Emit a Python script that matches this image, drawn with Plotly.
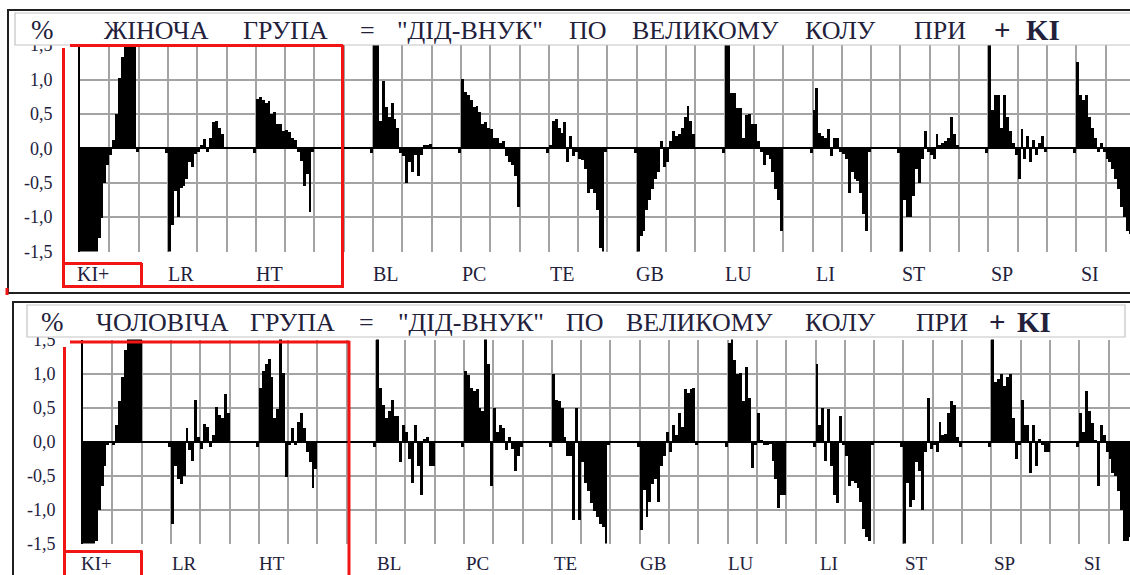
import plotly.graph_objects as go

W, H = 1130, 575

# ---------------- data ----------------
GROUPS = ["KI+", "LR", "HT", "BL", "PC", "TE", "GB", "LU", "LI", "ST", "SP", "SI"]
Y_TICKS = [-1.5, -1.0, -0.5, 0.0, 0.5, 1.0, 1.5]
Y_TICK_TEXT = ["-1,5", "-1,0", "-0,5", "0,0", "0,5", "1,0", "1,5"]
MARK = -0.07  # small separator bar before each group

# female group (top panel), 20 values per group
F_KI = [-1.6, -1.6, -1.6, -1.6, -1.6, -1.6, -1.3, -1.02, -0.5, -0.24, -0.1, 0.12, 0.5, 1.02, 1.33, 1.6, 1.6, 1.6, 1.6, -0.05]
F_LR = [-1.6, -1.12, -0.62, -1.0, -0.58, -0.55, -0.45, -0.2, -0.28, -0.08, -0.05, 0.05, 0.14, -0.05, 0.15, 0.38, 0.4, 0.3, 0.2, 0.02]
F_HT = [0.72, 0.74, 0.7, 0.65, 0.68, 0.5, 0.52, 0.35, 0.35, 0.25, 0.27, 0.24, 0.15, 0.12, -0.05, -0.18, -0.55, -0.38, -0.93, -0.05]
F_BL = [1.6, 1.6, 0.4, 0.97, 0.6, 0.45, 0.65, 0.43, 0.3, -0.07, -0.12, -0.5, -0.2, -0.35, -0.1, -0.4, -0.1, 0.05, 0.05, 0.06]
F_PC = [1.0, 0.82, 0.78, 0.7, 0.6, 0.62, 0.52, 0.35, 0.38, 0.3, 0.28, 0.15, 0.15, 0.08, 0.1, -0.12, -0.2, -0.25, -0.4, -0.85]
F_TE = [0.05, 0.4, 0.42, 0.3, 0.22, 0.38, -0.2, 0.18, -0.12, -0.05, -0.15, -0.17, -0.3, -0.65, -0.6, -0.65, -0.9, -1.45, -1.6, -0.05]
F_GB = [-1.6, -1.28, -1.2, -0.9, -0.75, -0.6, -0.45, -0.35, 0.1, -0.28, -0.2, 0.1, 0.25, 0.18, 0.2, 0.3, 0.45, 0.62, 0.4, 0.2]
F_LU = [1.6, 1.6, 0.8, 0.8, 0.58, 0.58, 0.15, 0.48, 0.5, 0.35, 0.35, 0.1, -0.05, -0.25, -0.1, -0.15, -0.35, -0.6, -0.75, -1.2]
F_LI = [0.55, 0.88, 0.22, 0.18, 0.15, 0.28, -0.12, 0.15, 0.15, -0.05, -0.08, -0.15, -0.65, -0.35, -0.45, -0.48, -0.65, -0.95, -1.2, -0.05]
F_ST = [-1.6, -0.75, -1.0, -1.0, -0.7, -0.3, -0.5, -0.15, 0.25, -0.05, -0.1, -0.15, 0.2, 0.05, 0.08, 0.1, 0.15, 0.45, 0.2, 0.05]
F_SP = [1.6, 0.55, 0.78, 0.78, 0.3, 0.78, 0.45, 0.25, 0.08, -0.1, -0.45, 0.28, -0.15, 0.18, -0.2, 0.12, -0.1, 0.08, 0.18, -0.05]
F_SI = [1.25, 0.78, 0.7, 0.78, 0.45, 0.3, 0.15, -0.05, 0.08, -0.05, -0.15, -0.2, -0.3, -0.45, -0.6, -0.85, -1.0, -1.2, -1.25, -1.4]

# male group (bottom panel)
M_KI = [-1.6, -1.6, -1.6, -1.6, -1.45, -1.0, -0.65, -0.35, -0.05, 0.0, -0.05, 0.25, 0.6, 0.95, 1.35, 1.6, 1.6, 1.6, 1.6, 1.6]
M_LR = [-1.2, -0.35, -0.55, -0.62, -0.5, 0.2, -0.12, -0.28, 0.62, 0.08, -0.1, 0.27, 0.22, -0.08, 0.1, 0.52, 0.4, 0.36, 0.7, 0.42]
M_HT = [0.8, 1.05, 1.15, 1.22, 0.95, 0.35, 0.48, 1.6, 1.02, -0.52, -0.05, 0.2, -0.05, 0.3, 0.42, 0.2, -0.15, -0.3, -0.68, -0.4]
M_BL = [1.6, 0.8, 0.55, 0.35, 0.45, 0.62, 0.38, 0.38, -0.3, 0.25, 0.15, -0.25, -0.6, 0.25, -0.35, -0.78, 0.05, 0.08, -0.35, -0.35]
M_PC = [1.05, 0.98, 0.8, 0.75, 0.78, 0.5, 0.45, 1.6, 1.15, -0.65, 0.5, 0.15, 0.25, 0.2, -0.12, 0.08, -0.1, -0.42, -0.2, -0.08]
M_TE = [1.0, 0.62, 0.6, 0.5, 0.08, -0.2, -0.2, -1.15, 0.5, -1.15, -0.3, -0.6, -0.72, -0.9, -1.02, -1.1, -1.2, -1.25, -1.6, -0.05]
M_GB = [-1.3, -0.7, -1.1, -0.88, -0.62, -0.55, -0.88, -0.35, -0.2, 0.15, -0.15, 0.25, 0.1, 0.42, 0.22, 0.78, 0.72, 0.78, 0.8, -0.05]
M_LU = [1.45, 1.6, 1.2, 1.0, 1.02, 0.6, 1.1, 0.65, -0.38, -0.05, 0.42, 0.02, -0.05, -0.05, -0.02, -0.28, -0.55, -0.97, -0.78, -0.78]
M_LI = [1.15, 0.25, 0.5, -0.28, 0.48, -0.35, -0.78, -0.9, 0.38, -0.05, -0.2, -0.65, -0.58, -0.6, -0.68, -0.88, -1.28, -1.4, -1.45, -0.05]
M_ST = [-1.6, -0.6, -0.95, -0.85, -0.3, -0.42, -1.0, -0.15, 0.65, -0.1, -0.05, -0.15, 0.3, 0.1, 0.12, 0.42, 0.6, 0.55, 0.08, -0.08]
M_SP = [1.6, 0.88, 0.92, 1.0, 0.82, 0.95, 1.0, 0.35, -0.25, -0.05, 0.62, 0.25, 0.25, -0.45, 0.25, -0.35, 0.05, -0.05, -0.15, -0.15]
M_SI = [0.42, 0.15, 0.75, 0.45, 0.28, 0.02, -0.65, 0.25, 0.1, -0.15, -0.25, -0.45, -0.5, -0.72, -1.0, -1.45, -1.45, -1.4, -1.6, -1.6]

FEMALE = [F_KI, F_LR, F_HT, F_BL, F_PC, F_TE, F_GB, F_LU, F_LI, F_ST, F_SP, F_SI]
MALE = [M_KI, M_LR, M_HT, M_BL, M_PC, M_TE, M_GB, M_LU, M_LI, M_ST, M_SP, M_SI]

TITLE_F = ["%", "ЖІНОЧА", "ГРУПА", "=", "\"ДІД-ВНУК\"", "ПО", "ВЕЛИКОМУ", "КОЛУ", "ПРИ", "+", "KI"]
TITLE_M = ["%", "ЧОЛОВІЧА", "ГРУПА", "=", "\"ДІД-ВНУК\"", "ПО", "ВЕЛИКОМУ", "КОЛУ", "ПРИ", "+", "KI"]

# ---------------- layout helpers ----------------
TXT = "#22203a"
GRID = "#a3a3a3"
RED = "#f21515"
SERIF = "Liberation Serif, Times New Roman, serif"


def group_start(g):
    return 30 * g + (10 if g >= 3 else 0)


def build(series):
    xs, ys = [], []
    for g, vals in enumerate(series):
        s = group_start(g)
        if s >= 1:
            xs.append(s - 0.5)
            ys.append(MARK)
        for j, v in enumerate(vals):
            xs.append(s + j + 0.5)
            ys.append(v)
    return xs, ys


def px(x):
    return x / W


def py(y):
    return 1 - y / H


def rect(x0, y0, x1, y1, color, width, fill="rgba(0,0,0,0)"):
    return dict(type="rect", xref="paper", yref="paper", x0=px(x0), x1=px(x1),
                y0=py(y1), y1=py(y0), line=dict(color=color, width=width),
                fillcolor=fill, layer="above")


def seg(x0, y0, x1, y1, color, width):
    return dict(type="line", xref="paper", yref="paper", x0=px(x0), x1=px(x1),
                y0=py(y0), y1=py(y1), line=dict(color=color, width=width), layer="above")


xf, yf = build(FEMALE)
xm, ym = build(MALE)

fig = go.Figure()
fig.add_trace(go.Bar(x=xf, y=yf, width=1.0, marker=dict(color="black", line=dict(width=0)),
                     xaxis="x", yaxis="y", hoverinfo="skip"))
fig.add_trace(go.Bar(x=xm, y=ym, width=1.0, marker=dict(color="black", line=dict(width=0)),
                     xaxis="x2", yaxis="y2", hoverinfo="skip"))

# panel geometry (pixels): axis left edge, y of +1.5 and -1.5
P1 = dict(left=80, top=45.1, bottom=251.5)
P2 = dict(left=83, top=339.5, bottom=543.5)
UNIT = 2.93  # px per bar slot


def xaxis(p, anchor):
    return dict(domain=[px(p["left"]), 1], range=[0, (W - p["left"]) / UNIT], anchor=anchor,
                showgrid=True, gridcolor=GRID, gridwidth=2, tick0=0, dtick=10,
                showticklabels=False, ticks="", zeroline=False, showline=False,
                automargin=False, fixedrange=True)


def yaxis(p, anchor):
    return dict(domain=[py(p["bottom"]), py(p["top"])], range=[-1.5, 1.5], anchor=anchor,
                tickvals=Y_TICKS, ticktext=Y_TICK_TEXT, ticks="",
                tickfont=dict(family=SERIF, size=18, color=TXT),
                ticklabelstandoff=22, automargin=False,
                showgrid=True, gridcolor=GRID, gridwidth=2,
                zeroline=True, zerolinecolor="black", zerolinewidth=2,
                showline=True, linecolor="black", linewidth=2, fixedrange=True)


shapes = [
    # frames and title boxes
    rect(8, 10, 1140, 293, "#202020", 2),
    rect(15, 13, 1140, 45, "#c4c4c4", 1.2, fill="white"),
    rect(13, 302, 1140, 590, "#202020", 2),
    rect(27, 305, 1125, 337, "#c4c4c4", 1.2, fill="white"),
    # red highlight, top panel
    seg(63.5, 48, 63.5, 287, RED, 3),
    seg(70, 45.5, 343, 45.5, RED, 3),
    seg(342.5, 45, 342.5, 287, RED, 3),
    seg(62, 286.5, 344, 286.5, RED, 3),
    seg(62, 263.5, 142, 263.5, RED, 3),
    seg(141.5, 263, 141.5, 287, RED, 3),
    seg(7, 288, 7, 295, RED, 3),
    # red highlight, bottom panel
    seg(70, 342, 350, 342, RED, 3),
    seg(64.5, 347, 64.5, 580, RED, 3),
    seg(349, 341, 349, 580, RED, 3),
    seg(63, 551.5, 142.5, 551.5, RED, 3),
    seg(141.5, 551, 141.5, 580, RED, 3),
]

annotations = []

# title words: pixel centres along the title bars
F_POS = [42, 156, 285, 367, 470, 588, 705, 840, 940, 1002, 1043]
M_POS = [52, 162, 292, 366, 471, 585, 699, 840, 942, 997, 1034]


def title_words(words, centres, yc):
    for w, cx in zip(words, centres):
        size, bold = 26, False
        if w == "%":
            size = 27
        if w in ("+", "KI"):
            size, bold = 29, True
        annotations.append(dict(
            text=f"<b>{w}</b>" if bold else w, xref="paper", yref="paper",
            x=px(cx), y=py(yc), xanchor="center", yanchor="middle", showarrow=False,
            font=dict(family=SERIF, size=size, color=TXT)))


title_words(TITLE_F, F_POS, 30)
title_words(TITLE_M, M_POS, 322)

# group labels under each panel
for g, name in enumerate(GROUPS):
    xc = group_start(g) + 4.6
    annotations.append(dict(text=name, xref="x", yref="paper", x=xc, y=py(274),
                            xanchor="center", yanchor="middle", showarrow=False,
                            font=dict(family=SERIF, size=20, color=TXT)))
    annotations.append(dict(text=name, xref="x2", yref="paper", x=xc, y=py(563),
                            xanchor="center", yanchor="middle", showarrow=False,
                            font=dict(family=SERIF, size=19, color=TXT)))

fig.update_layout(
    width=W, height=H, margin=dict(l=0, r=0, t=0, b=0, pad=0), autosize=False,
    paper_bgcolor="white", plot_bgcolor="white",
    showlegend=False, bargap=0,
    xaxis=xaxis(P1, "y"), yaxis=yaxis(P1, "x"),
    xaxis2=xaxis(P2, "y2"), yaxis2=yaxis(P2, "x2"),
    shapes=shapes, annotations=annotations,
)

fig.write_html(
    "out.html",
    config={"displayModeBar": False},
    post_script="document.documentElement.style.margin='0';document.body.style.margin='0';"
                "document.body.style.overflow='hidden';",
)
